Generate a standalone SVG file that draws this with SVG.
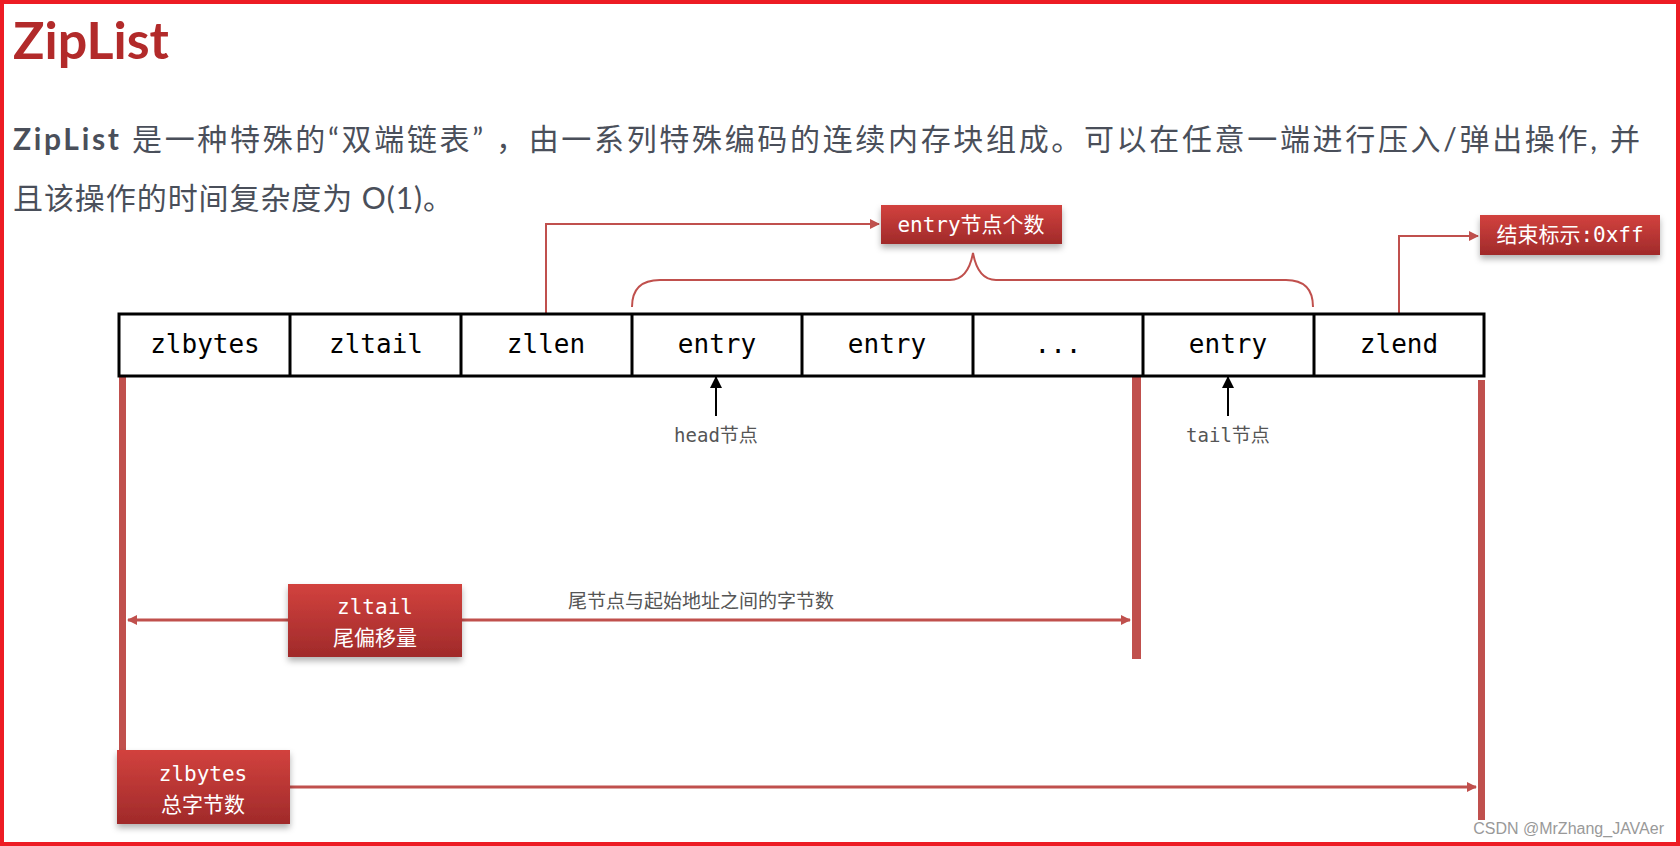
<svg xmlns="http://www.w3.org/2000/svg" width="1680" height="846" viewBox="0 0 1680 846">
<style>
.cell{fill:#fff;stroke:#000;stroke-width:3}
.ct{font-family:"DejaVu Sans Mono","Liberation Mono",monospace;font-size:26px;fill:#000;text-anchor:middle}
.lbl{font-family:"DejaVu Sans Mono","Noto Sans CJK SC",monospace;font-size:19px;fill:#555;text-anchor:middle}
.rb{fill:url(#rg);filter:url(#sh)}
.wt{font-family:"DejaVu Sans Mono","Noto Sans CJK SC",monospace;font-size:21px;fill:#fff;text-anchor:middle}
.rl{stroke:#C0504D;stroke-width:2;fill:none}
.rl3{stroke:#C0504D;stroke-width:3;fill:none}
.bar{fill:#C0504D}
.para{font-family:Lato,"Noto Sans CJK SC",sans-serif;font-size:30px;fill:#4A4F5A}
</style>
<defs>
<linearGradient id="rg" x1="0" y1="0" x2="0" y2="1"><stop offset="0" stop-color="#D2423E"/><stop offset="1" stop-color="#A02A2A"/></linearGradient>
<filter id="sh" x="-10%" y="-10%" width="130%" height="140%"><feDropShadow dx="0" dy="4" stdDeviation="3" flood-color="#000" flood-opacity="0.3"/></filter>
<marker id="ar" markerWidth="10" markerHeight="10" refX="9" refY="5" orient="auto" markerUnits="userSpaceOnUse"><path d="M0,0 L10,5 L0,10 z" fill="#C0504D"/></marker>
<marker id="ak" markerWidth="12" markerHeight="14" refX="11" refY="6" orient="auto" markerUnits="userSpaceOnUse"><path d="M0,0 L12,6 L0,12 z" fill="#000"/></marker>
</defs>
<rect x="2" y="2" width="1676" height="842" fill="#fff" stroke="#ED1C24" stroke-width="4"/>
<text x="13" y="59" font-family="Lato,'Noto Sans',sans-serif" font-weight="bold" font-size="52" fill="#B22A2A">ZipList</text>
<text class="para" x="13" y="150" textLength="1627" lengthAdjust="spacing"><tspan font-weight="bold">ZipList</tspan> 是一种特殊的“双端链表” ，由一系列特殊编码的连续内存块组成。可以在任意一端进行压入/弹出操作, 并</text>
<text class="para" x="13" y="209" textLength="440" lengthAdjust="spacing">且该操作的时间复杂度为 O(1)。</text>
<g id="connectors">
<polyline class="rl" points="546,314 546,224 879,224" marker-end="url(#ar)"/>
<path class="rl" d="M632,307 Q632,280 660,280 L950,280 Q968,280 973,253 Q978,280 996,280 L1286,280 Q1313,280 1313,307"/>
<polyline class="rl" points="1399,314 1399,236 1478,236" marker-end="url(#ar)"/>
<line x1="716" y1="416" x2="716" y2="377" stroke="#000" stroke-width="2" marker-end="url(#ak)"/>
<line x1="1228" y1="416" x2="1228" y2="377" stroke="#000" stroke-width="2" marker-end="url(#ak)"/>
<rect class="bar" x="119" y="377" width="7" height="380"/>
<rect class="bar" x="1132" y="377" width="9" height="282"/>
<rect class="bar" x="1478" y="380" width="7" height="440"/>
<line class="rl3" x1="288" y1="620" x2="128" y2="620" marker-end="url(#ar)"/>
<line class="rl3" x1="462" y1="620" x2="1130" y2="620" marker-end="url(#ar)"/>
<line class="rl3" x1="290" y1="787" x2="1476" y2="787" marker-end="url(#ar)"/>
</g>
<g id="cells">
<rect class="cell" x="119" y="314" width="1365" height="62"/>
<path d="M290,314V376M461,314V376M632,314V376M802,314V376M973,314V376M1143,314V376M1314,314V376" stroke="#000" stroke-width="3"/>
<text class="ct" x="205" y="353">zlbytes</text>
<text class="ct" x="376" y="353">zltail</text>
<text class="ct" x="546" y="353">zllen</text>
<text class="ct" x="717" y="353">entry</text>
<text class="ct" x="887" y="353">entry</text>
<text class="ct" x="1058" y="353">...</text>
<text class="ct" x="1228" y="353">entry</text>
<text class="ct" x="1399" y="353">zlend</text>
</g>
<text class="lbl" x="716" y="442">head节点</text>
<text class="lbl" x="1228" y="442">tail节点</text>
<text class="lbl" x="701" y="608">尾节点与起始地址之间的字节数</text>
<g id="n-count"><rect class="rb" x="881" y="205" width="181" height="39"/><text class="wt" x="971" y="232">entry节点个数</text></g>
<g id="n-end"><rect class="rb" x="1480" y="215" width="180" height="40"/><text class="wt" x="1570" y="242">结束标示:0xff</text></g>
<g id="n-zltail"><rect class="rb" x="288" y="584" width="174" height="73"/><text class="wt" x="375" y="614">zltail</text><text class="wt" x="375" y="645" font-size="24">尾偏移量</text></g>
<g id="n-zlbytes"><rect class="rb" x="117" y="750" width="173" height="74"/><text class="wt" x="203" y="781">zlbytes</text><text class="wt" x="203" y="812" font-size="24">总字节数</text></g>
<text x="1664" y="834" text-anchor="end" font-family="'Liberation Sans',sans-serif" font-size="16" fill="#999">CSDN @MrZhang_JAVAer</text>
</svg>
